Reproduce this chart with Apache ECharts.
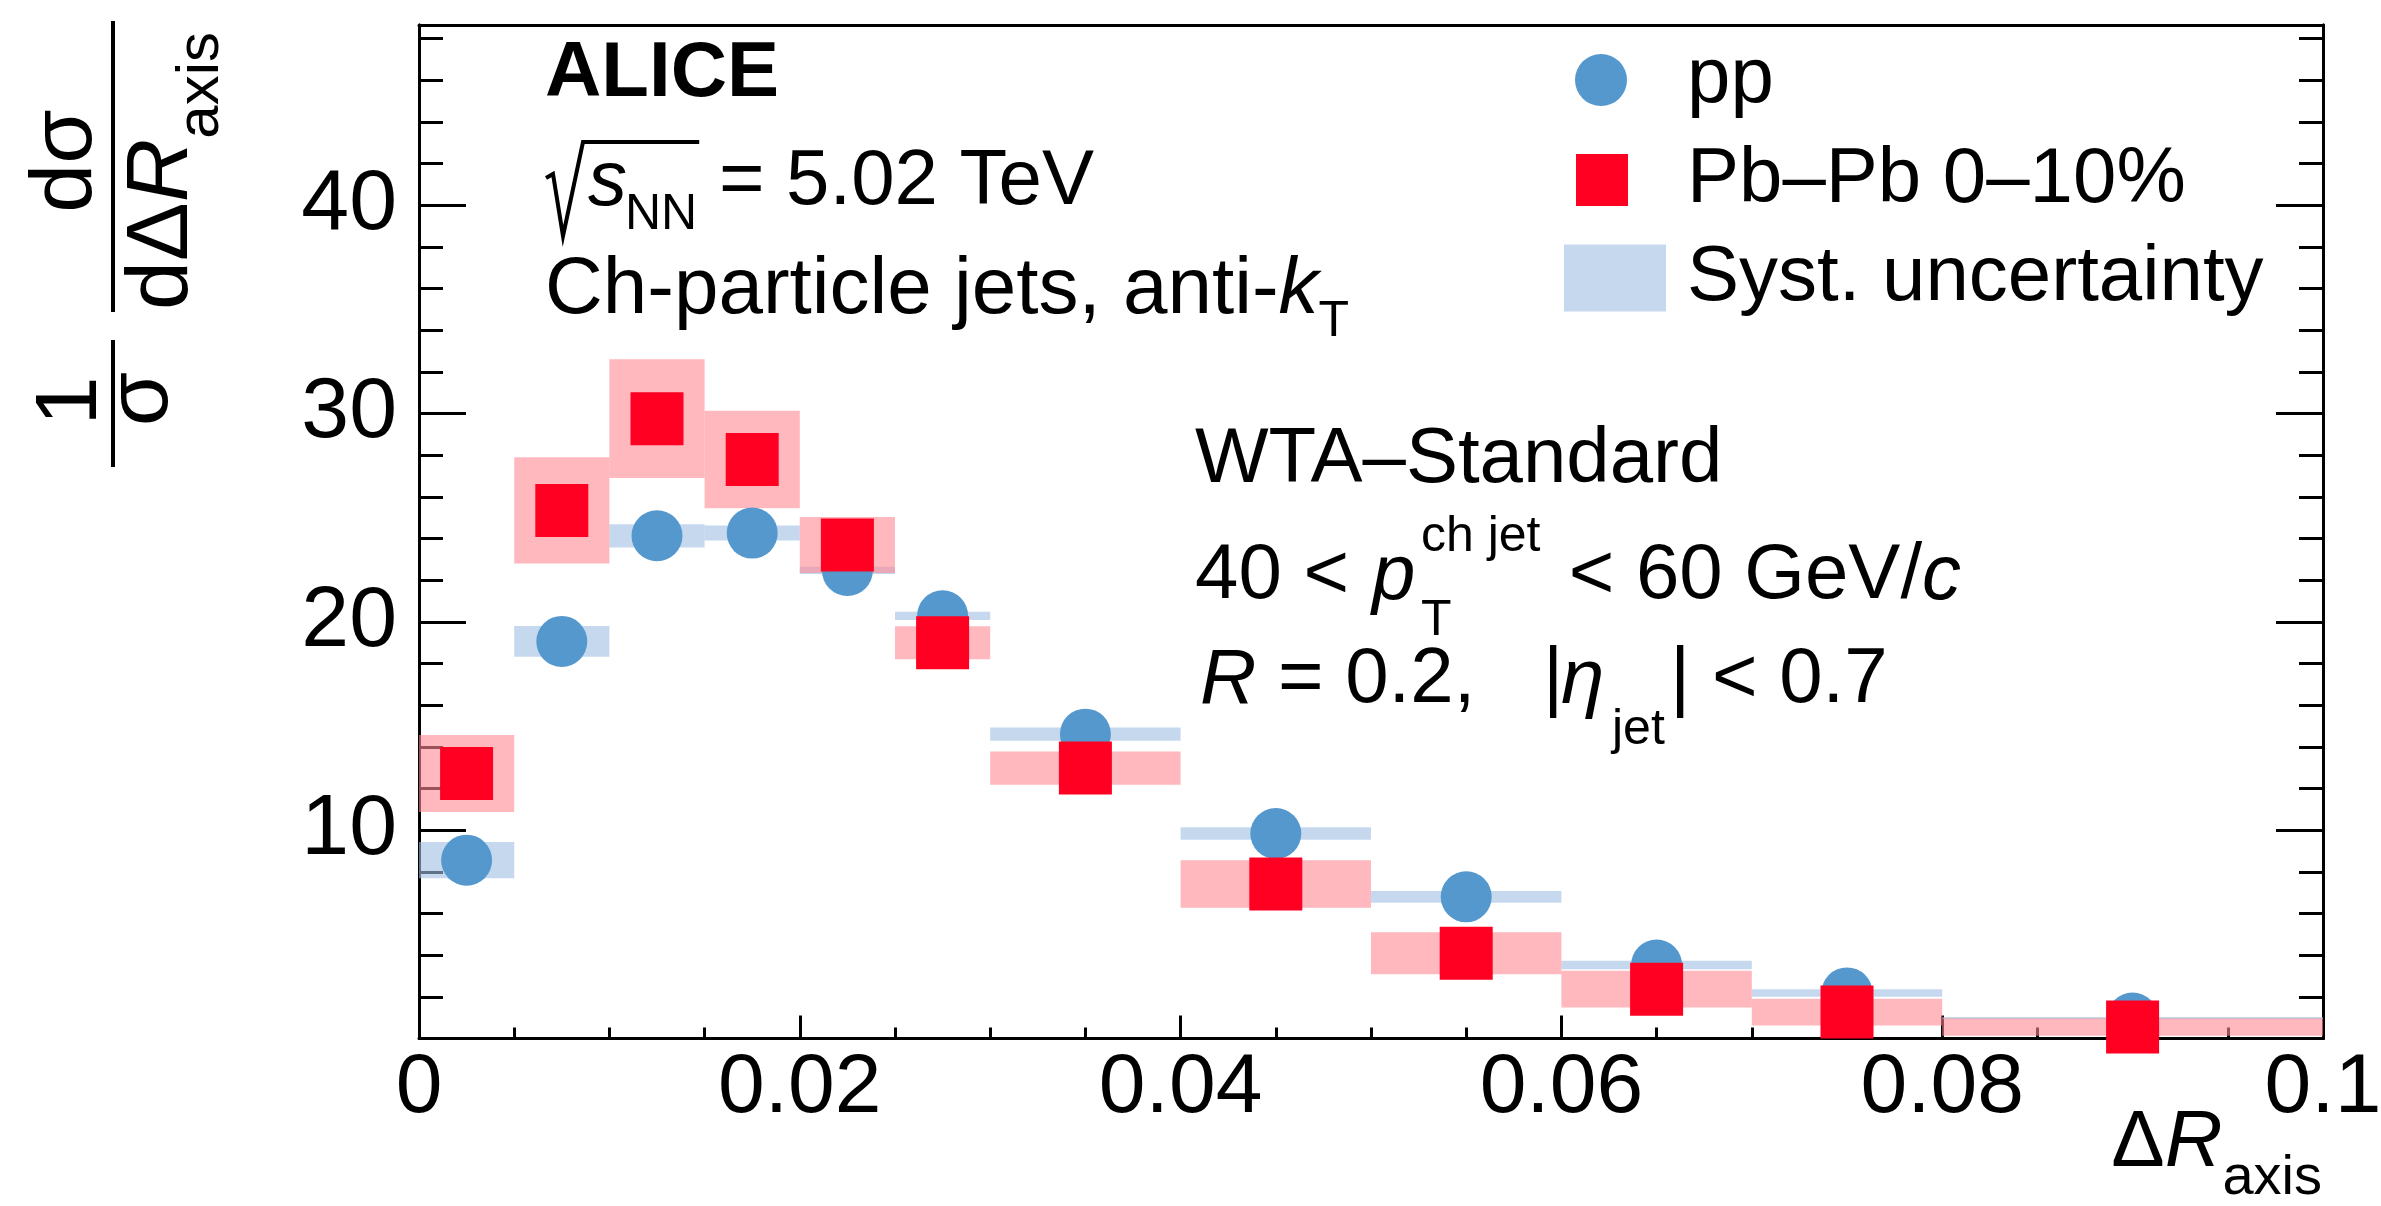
<!DOCTYPE html>
<html><head><meta charset="utf-8">
<script src="https://cdn.jsdelivr.net/npm/echarts@6/dist/echarts.min.js"></script>
<style>html,body{margin:0;padding:0;background:#fff}#c{width:2381px;height:1206px}</style>
</head><body><div id="c"></div>
<script>
// ---------- data ----------
const binLow    = [0, 0.005, 0.01, 0.015, 0.02, 0.025, 0.03, 0.04, 0.05, 0.06, 0.07, 0.08];
const binHigh   = [0.005, 0.01, 0.015, 0.02, 0.025, 0.03, 0.04, 0.05, 0.06, 0.07, 0.08, 0.1];
const binCenter = [0.0025, 0.0075, 0.0125, 0.0175, 0.0225, 0.0275, 0.035, 0.045, 0.055, 0.065, 0.075, 0.09];
const ppValues  = [8.56, 19.06, 24.13, 24.26, 22.47, 20.29, 14.61, 9.84, 6.80, 3.53, 2.19, 0.98];
const ppSyst    = [0.87, 0.74, 0.56, 0.36, 0.17, 0.20, 0.32, 0.30, 0.28, 0.20, 0.18, 0.05];
const pbValues  = [12.72, 25.35, 29.75, 27.79, 23.69, 19.00, 12.98, 7.42, 4.09, 2.37, 1.27, 0.55];
const pbSyst    = [1.85, 2.55, 2.85, 2.34, 1.34, 0.79, 0.80, 1.14, 1.01, 0.88, 0.64, 0.42];
const xTickValues = [0, 0.02, 0.04, 0.06, 0.08, 0.1];
const xTickLabels = ['0', '0.02', '0.04', '0.06', '0.08', '0.1'];
const yTickValues = [10, 20, 30, 40];
const yTickLabels = ['10', '20', '30', '40'];
const Y_MAX = 48.65;

// ---------- styles ----------
const FAM = '"Liberation Sans", Arial, Helvetica, sans-serif';
const C_PP = '#5598ce', C_PB = '#ff0022';
const C_PP_SYST = 'rgba(158,190,227,0.6)', C_PB_SYST = 'rgba(255,137,147,0.6)';
const TXT = 78;

const ctx = document.createElement('canvas').getContext('2d');
function fontStr(size, it, b) { return (it ? 'italic ' : 'normal ') + (b ? 'bold ' : 'normal ') + size + 'px ' + FAM; }
function measure(str, f) { ctx.font = f; return ctx.measureText(str).width; }
function textEl(x, base, str, size, it, b, align) {
  const f = fontStr(size, it, b);
  return { type: 'text', x: x, y: base - 0.347 * size, silent: true,
    style: { text: str, font: f, fill: '#000', align: align || 'left', verticalAlign: 'middle',
             textAlign: align || 'left', textVerticalAlign: 'middle' } };
}
// chain segments; 'at' gives an absolute start, otherwise follows previous
function chain(x, base, parts) {
  const els = [];
  let cx = x;
  parts.forEach(p => {
    const s = p.s || TXT;
    const f = fontStr(s, p.it, p.b);
    if (p.at !== undefined) cx = p.at;
    els.push(textEl(cx, base + (p.dy || 0), p.t, s, p.it, p.b));
    cx += measure(p.t, f);
  });
  return { els, end: cx };
}

const graphics = [];
function add(r) { r.els.forEach(e => graphics.push(e)); return r.end; }

// ALICE
add(chain(545, 102, [{ t: 'ALICE', b: true }]));
// sqrt(s_NN) = 5.02 TeV
const sq = chain(588, 210, [{ t: 's', it: true }, { t: 'NN', s: 50, dy: 23, at: 625 }]);
add(sq);
add(chain(sq.end, 210, [{ t: ' = 5.02 TeV' }]));
graphics.push({ type: 'polyline', silent: true,
  shape: { points: [[546, 178], [553, 174], [563, 236], [583, 142], [sq.end + 2, 142]] },
  style: { stroke: '#000', lineWidth: 4, fill: null } });
// Ch-particle jets
add(chain(545, 319, [{ t: 'Ch-particle jets, anti-', s: 80 }, { t: 'k', it: true, s: 80 }, { t: 'T', s: 50, dy: 21 }]));
// right block
add(chain(1195, 488, [{ t: 'WTA\u2013Standard' }]));
add(chain(1195, 604, [{ t: '40 < ' }, { t: 'p', it: true, at: 1372 }]));
graphics.push(textEl(1421, 555, 'ch jet', 50));
graphics.push(textEl(1421, 639, 'T', 50));
add(chain(1547, 604, [{ t: ' < 60 GeV/' }, { t: 'c', it: true }]));
add(chain(1200, 708, [{ t: 'R', it: true }, { t: ' = 0.2,' }, { t: '|', at: 1543 }, { t: '\u03b7', it: true, at: 1561 },
  { t: 'jet', s: 50, dy: 40, at: 1612 }, { t: '| < 0.7', at: 1670 }]));

// x axis title  ΔR_axis (right aligned at plot edge)
(function () {
  const sMain = 80, sSub = 56;
  const total = measure('\u0394', fontStr(sMain)) + measure('R', fontStr(sMain, true)) + measure('axis', fontStr(sSub));
  add(chain(2322 - total, 1172, [{ t: '\u0394', s: sMain }, { t: 'R', s: sMain, it: true }, { t: 'axis', s: sSub, dy: 26 }]));
})();

// y axis title: 1/σ dσ/dΔR_axis, rotated
(function () {
  const S = 88, kids = [];
  kids.push({ type: 'line', shape: { x1: 0, y1: 0, x2: 127, y2: 0 }, style: { stroke: '#000', lineWidth: 4 } });
  kids.push(textEl(66, -11, '1', S, false, false, 'center'));
  kids.push(textEl(68, 60, '\u03c3', S, false, false, 'center'));
  kids.push({ type: 'line', shape: { x1: 155, y1: 0, x2: 446, y2: 0 }, style: { stroke: '#000', lineWidth: 4 } });
  kids.push(textEl(306, -16, 'd\u03c3', S, false, false, 'center'));
  chain(157, 80, [{ t: 'd\u0394', s: S }, { t: 'R', s: S, it: true }, { t: 'axis', s: 60, dy: 29 }]).els.forEach(e => kids.push(e));
  graphics.push({ type: 'group', x: 113, y: 467, rotation: Math.PI / 2, silent: true, children: kids });
})();

// ---------- chart ----------
const chart = echarts.init(document.getElementById('c'), null, { renderer: 'canvas' });
const boxData = (vals, errs) => binLow.map((lo, i) => [lo, binHigh[i], vals[i] - errs[i], vals[i] + errs[i]]);
const boxSeries = (name, vals, errs, color) => ({
  type: 'custom', name: name, data: boxData(vals, errs), encode: { x: [0, 1], y: [2, 3] },
  itemStyle: { color: color }, silent: true,
  renderItem: (params, api) => {
    const a = api.coord([api.value(0), api.value(3)]);
    const b = api.coord([api.value(1), api.value(2)]);
    return { type: 'rect', shape: { x: a[0], y: a[1], width: b[0] - a[0], height: b[1] - a[1] }, style: { fill: color } };
  }
});
const blackLine = { color: '#000', width: 3 };
const yAx = (pos, interval, len, labels) => ({
  type: 'value', min: 0, max: Y_MAX, interval: interval, position: pos,
  axisLine: { show: true, onZero: false, lineStyle: blackLine },
  axisTick: { show: true, inside: true, length: len, lineStyle: blackLine },
  minorTick: { show: false }, splitLine: { show: false },
  axisLabel: labels ? {
    show: true, fontSize: 86, fontFamily: FAM, color: '#000', margin: 22,
    formatter: v => { const i = yTickValues.findIndex(t => Math.abs(t - v) < 1e-6); return i >= 0 ? yTickLabels[i] : ''; }
  } : { show: false }
});
const legendBase = { orient: 'vertical', padding: 0, selectedMode: false };
chart.setOption({
  animation: false,
  backgroundColor: '#fff',
  grid: { left: 419, top: 25, width: 1904, height: 1013.5, containLabel: false, outerBoundsMode: 'none' },
  xAxis: [
    { type: 'value', min: 0, max: 0.1, interval: 0.02, position: 'bottom',
      axisLine: { show: true, onZero: false, lineStyle: blackLine },
      axisTick: { show: true, inside: true, length: 23, lineStyle: blackLine },
      minorTick: { show: true, splitNumber: 4, length: 11, lineStyle: blackLine },
      splitLine: { show: false }, minorSplitLine: { show: false },
      axisLabel: { show: true, fontSize: 84, fontFamily: FAM, color: '#000', margin: 8,
        formatter: v => { const i = xTickValues.findIndex(t => Math.abs(t - v) < 1e-9); return i >= 0 ? xTickLabels[i] : ''; } } },
    { type: 'value', min: 0, max: 0.1, interval: 0.02, position: 'top',
      axisLine: { show: true, onZero: false, lineStyle: blackLine },
      axisTick: { show: false }, axisLabel: { show: false }, splitLine: { show: false } }
  ],
  yAxis: [yAx('left', 10, 47, true), yAx('left', 2, 24, false), yAx('right', 10, 47, false), yAx('right', 2, 24, false)],
  legend: [
    Object.assign({}, legendBase, { left: 1575, top: 41, itemWidth: 52, itemHeight: 52,
      data: [{ name: 'pp', icon: 'circle', itemStyle: { color: C_PP } }],
      textStyle: { fontSize: TXT, fontFamily: FAM, color: '#000', lineHeight: 52, padding: [0, 0, 0, 55] } }),
    Object.assign({}, legendBase, { left: 1576, top: 141, itemWidth: 52, itemHeight: 52,
      data: [{ name: 'Pb\u2013Pb 0\u201310%', icon: 'rect', itemStyle: { color: C_PB } }],
      textStyle: { fontSize: TXT, fontFamily: FAM, color: '#000', lineHeight: 52, padding: [0, 0, 0, 54] } }),
    Object.assign({}, legendBase, { left: 1564, top: 239, itemWidth: 102, itemHeight: 67,
      data: [{ name: 'Syst. uncertainty', icon: 'rect', itemStyle: { color: '#c5d8ee' } }],
      textStyle: { fontSize: TXT, fontFamily: FAM, color: '#000', lineHeight: 67, padding: [0, 0, 0, 16] } })
  ],
  series: [
    boxSeries('Syst. uncertainty', ppValues, ppSyst, C_PP_SYST),
    boxSeries('Pb\u2013Pb syst.', pbValues, pbSyst, C_PB_SYST),
    { type: 'scatter', name: 'pp', symbol: 'circle', symbolSize: 51, silent: true,
      itemStyle: { color: C_PP, opacity: 1 }, data: binCenter.map((x, i) => [x, ppValues[i]]) },
    { type: 'scatter', name: 'Pb\u2013Pb 0\u201310%', symbol: 'rect', symbolSize: 53, silent: true,
      itemStyle: { color: C_PB, opacity: 1 }, data: binCenter.map((x, i) => [x, pbValues[i]]) }
  ],
  graphic: graphics
});
</script></body></html>
